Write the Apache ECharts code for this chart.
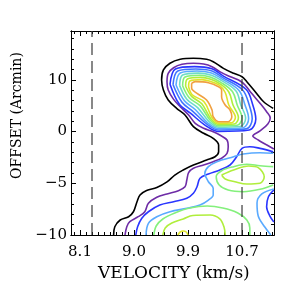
<!DOCTYPE html>
<html><head><meta charset="utf-8">
<script src="https://cdn.jsdelivr.net/npm/echarts@6/dist/echarts.min.js"></script>
<style>html,body{margin:0;padding:0;background:#fff}#c{width:293px;height:293px}</style>
</head><body><div id="c"></div>
<script>
const xTickValues=[8.1,9.0,9.9,10.8];
const xTickLabels=['8.1','9.0','9.9','10.7'];
const yTickValues=[-10,-5,0,5];
const yTickLabels=['\u221210','\u22125','0','10'];
const dashedVelocities=[8.3,10.8];

const contourBlack=[[11.32,2.25],[11.16,2.89],[11.02,3.86],[10.88,4.83],[10.80,5.31],[10.66,5.64],[10.49,6.12],[10.32,6.76],[10.21,6.99],[9.99,7.09],[9.77,6.99],[9.60,6.61],[9.49,5.96],[9.46,4.99],[9.49,4.02],[9.57,3.06],[9.71,2.25],[9.85,1.61],[9.99,0.48],[10.16,-0.16],[10.32,-0.65],[10.41,-1.30],[10.41,-1.94],[10.35,-2.43],[10.21,-2.75],[9.99,-3.23],[9.82,-3.71],[9.68,-4.20],[9.55,-4.87],[9.38,-5.41],[9.21,-5.70],[9.10,-6.13],[9.05,-6.78],[8.99,-7.75],[8.91,-8.23],[8.77,-8.55],[8.68,-9.20],[8.66,-10]];
const contourPurple=[[8.85,-10],[8.88,-9.20],[8.93,-8.71],[9.07,-8.23],[9.18,-7.75],[9.24,-6.93],[9.38,-6.35],[9.55,-6.03],[9.74,-5.72],[9.85,-5.33],[9.88,-4.68],[9.91,-3.97],[9.99,-3.55],[10.16,-3.23],[10.32,-2.91],[10.46,-2.58],[10.55,-2.10],[10.57,-1.46],[10.55,-0.81],[10.43,-0.33],[10.32,-0.01],[10.16,0.32],[10.02,0.80],[9.91,1.61],[9.77,2.41],[9.66,3.12],[9.57,4.02],[9.55,4.83],[9.57,5.64],[9.66,6.18],[9.80,6.51],[9.99,6.61],[10.16,6.54],[10.30,6.28],[10.46,5.70],[10.63,5.25],[10.77,4.89],[10.85,4.51],[10.96,3.70],[11.10,2.74],[11.21,1.92],[11.27,1.32],[11.23,0.74],[11.10,0.06],[10.98,-0.43],[11.07,-0.81],[11.20,-1.25],[11.33,-1.68]];
const ringBlue=[[9.60,4.58],[9.69,6.05],[10.01,6.28],[10.30,6.07],[10.49,5.37],[10.87,4.07],[10.98,2.57],[11.03,1.21],[10.92,0.15],[10.41,0.01],[10.20,0.56],[9.94,1.78],[9.75,2.69],[9.60,4.58]];
const ringMidBlue=[[9.65,4.55],[9.73,5.86],[10.03,6.06],[10.30,5.87],[10.48,5.22],[10.81,4.02],[10.92,2.57],[10.97,1.24],[10.87,0.26],[10.41,0.15],[10.22,0.70],[9.98,1.96],[9.80,2.83],[9.65,4.55]];
const ringLightBlue=[[9.70,4.51],[9.77,5.67],[10.05,5.86],[10.29,5.67],[10.47,5.08],[10.75,3.98],[10.85,2.57],[10.91,1.27],[10.82,0.38],[10.41,0.28],[10.23,0.83],[10.02,2.14],[9.84,2.98],[9.70,4.51]];
const ringAqua=[[9.76,4.47],[9.81,5.47],[10.07,5.66],[10.29,5.46],[10.46,4.93],[10.70,3.93],[10.78,2.57],[10.86,1.30],[10.77,0.49],[10.41,0.42],[10.25,0.97],[10.06,2.32],[9.88,3.12],[9.76,4.47]];
const ringLightGreen=[[9.81,4.43],[9.85,5.28],[10.09,5.45],[10.28,5.26],[10.44,4.79],[10.64,3.88],[10.72,2.57],[10.80,1.33],[10.72,0.61],[10.41,0.55],[10.27,1.10],[10.10,2.51],[9.92,3.27],[9.81,4.43]];
const ringYellowGreen=[[9.86,4.39],[9.89,5.09],[10.11,5.24],[10.28,5.06],[10.43,4.63],[10.58,3.83],[10.65,2.57],[10.74,1.35],[10.67,0.73],[10.41,0.69],[10.28,1.24],[10.13,2.69],[9.96,3.41],[9.86,4.39]];
const ringYellow=[[9.91,4.35],[9.93,4.89],[10.13,5.03],[10.27,4.86],[10.42,4.49],[10.52,3.78],[10.58,2.57],[10.69,1.38],[10.62,0.84],[10.41,0.82],[10.30,1.37],[10.17,2.87],[9.97,3.56],[9.91,4.35]];
const contourOrange=[[9.96,4.67],[10.02,4.83],[10.24,4.73],[10.41,4.34],[10.46,4.02],[10.46,3.38],[10.52,2.57],[10.60,2.09],[10.63,1.44],[10.57,0.96],[10.41,0.96],[10.32,1.44],[10.30,2.09],[10.21,3.06],[10.05,3.70],[9.96,4.19],[9.96,4.67]];
const contourBlueLower=[[11.32,-1.94],[11.10,-1.62],[10.93,-1.46],[10.80,-1.62],[10.71,-2.43],[10.60,-3.23],[10.43,-3.71],[10.24,-4.10],[10.10,-4.52],[10.05,-5.33],[9.99,-5.97],[9.88,-6.45],[9.66,-6.78],[9.43,-7.10],[9.24,-7.75],[9.13,-8.38],[9.06,-9.20],[9.03,-10]];
const contourBlueRight=[[11.33,-5.65],[11.24,-6.30],[11.21,-7.26],[11.27,-8.23],[11.33,-8.74]];
const contourLightBlueLower=[[11.32,-2.10],[11.10,-2.04],[10.82,-2.17],[10.66,-2.43],[10.38,-2.91],[10.24,-3.39],[10.18,-4.03],[10.24,-4.85],[10.32,-5.48],[10.32,-6.13],[10.24,-6.62],[10.10,-7.10],[9.88,-7.42],[9.60,-7.75],[9.38,-8.23],[9.24,-8.87],[9.20,-10]];
const contourLightBlueRight=[[11.33,-5.55],[11.13,-6.03],[11.05,-6.91],[11.07,-8.16],[11.18,-9.23],[11.28,-10]];
const contourLightGreenArch=[[9.33,-10],[9.37,-9.13],[9.48,-8.45],[9.68,-7.87],[9.93,-7.39],[10.22,-7.20],[10.48,-7.39],[10.73,-7.87],[10.88,-8.55],[10.93,-9.32],[10.93,-10]];
const contourLightGreenRight=[[11.32,-3.39],[11.10,-3.30],[10.88,-3.16],[10.66,-3.39],[10.46,-3.78],[10.37,-4.36],[10.42,-5.16],[10.57,-5.65],[10.82,-5.81],[11.10,-5.58],[11.32,-5.16]];
const contourYellowGreenArch=[[9.48,-10],[9.52,-9.32],[9.63,-8.84],[9.82,-8.45],[9.98,-8.11],[10.27,-8.07],[10.43,-8.45],[10.50,-9.23],[10.52,-10]];
const contourYellowGreenLoop=[[10.46,-4.20],[10.66,-3.71],[10.91,-3.33],[11.07,-3.49],[11.17,-4.36],[11.10,-5.00],[10.88,-5.07],[10.68,-4.85],[10.52,-4.58],[10.46,-4.20]];
const contourYellowBump=[[9.73,-10],[9.77,-9.71],[9.82,-9.61],[9.87,-9.71],[9.90,-10]];

const X_MIN=7.95, X_MAX=11.333, Y_MIN=-10, Y_MAX=9.73;
const xMinor=[]; for(let i=80;i<=113;i++){const v=+(i/10).toFixed(1); if(xTickValues.indexOf(v)<0) xMinor.push(v);}
const yMinor=[]; for(let i=-9;i<=9;i++){ if(yTickValues.indexOf(i)<0) yMinor.push(i);}

function lab(vals,labs){return function(v){for(let i=0;i<vals.length;i++){if(Math.abs(vals[i]-v)<1e-6)return labs[i];}return '';};}
const font={color:'#000',fontFamily:'DejaVu Serif',fontSize:15};
function xAx(pos,ticks,len,labels){return {type:'value',position:pos,min:X_MIN,max:X_MAX,
  axisLine:{show:true,onZero:false,lineStyle:{color:'#000',width:1}},
  axisTick:{show:true,inside:true,length:len,customValues:ticks,lineStyle:{color:'#000',width:1}},
  axisLabel:labels?Object.assign({show:true,customValues:xTickValues,formatter:lab(xTickValues,xTickLabels),margin:10},font):{show:false},
  splitLine:{show:false}};}
function yAx(pos,ticks,len,labels){return {type:'value',position:pos,min:Y_MIN,max:Y_MAX,
  axisLine:{show:true,onZero:false,lineStyle:{color:'#000',width:1}},
  axisTick:{show:true,inside:true,length:len,customValues:ticks,lineStyle:{color:'#000',width:1}},
  axisLabel:labels?Object.assign({show:true,customValues:yTickValues,formatter:lab(yTickValues,yTickLabels),margin:4},font):{show:false},
  splitLine:{show:false}};}

const BLACK='#000000',PURPLE='#6e2ca6',BLUE='#2a36ff',MIDBLUE='#3f74ff',LBLUE='#5aaaff',AQUA='#6edcc8',LGREEN='#84f07c',YGREEN='#b0ee3c',YELLOW='#dee42a',ORANGE='#f0a040';
const contours=[
 [contourBlack,BLACK],[contourPurple,PURPLE],
 [ringBlue,BLUE],[ringMidBlue,MIDBLUE],[ringLightBlue,LBLUE],[ringAqua,AQUA],[ringLightGreen,LGREEN],[ringYellowGreen,YGREEN],[ringYellow,YELLOW],[contourOrange,ORANGE],
 [contourBlueLower,BLUE],[contourBlueRight,BLUE],
 [contourLightBlueLower,LBLUE],[contourLightBlueRight,LBLUE],
 [contourLightGreenArch,LGREEN],[contourLightGreenRight,LGREEN],
 [contourYellowGreenArch,YGREEN],[contourYellowGreenLoop,YGREEN],
 [contourYellowBump,YELLOW]
];
const series=contours.map(c=>({type:'line',data:c[0],showSymbol:false,smooth:0.35,clip:true,
  lineStyle:{color:c[1],width:1.6},xAxisIndex:0,yAxisIndex:0,silent:true}));
dashedVelocities.forEach(v=>series.push({type:'line',data:[[v,Y_MIN],[v,Y_MAX]],showSymbol:false,
  lineStyle:{color:'#3a3a3a',width:1.2,type:[12,6]},xAxisIndex:0,yAxisIndex:0,silent:true}));

const chart=echarts.init(document.getElementById('c'),null,{renderer:'canvas'});
chart.setOption({animation:false,backgroundColor:'#fff',
 grid:{left:71,right:19,top:31,bottom:58,containLabel:false},
 xAxis:[xAx('bottom',xTickValues,5,true),xAx('bottom',xMinor,3,false),xAx('top',xTickValues,5,false),xAx('top',xMinor,3,false)],
 yAxis:[yAx('left',yTickValues,5,true),yAx('left',yMinor,3,false),yAx('right',yTickValues,5,false),yAx('right',yMinor,3,false)],
 graphic:[
  {type:'text',left:98,top:265,style:{text:'VELOCITY (km/s)',font:'17px "DejaVu Serif"',fill:'#000'}},
  {type:'text',x:10,y:179,rotation:Math.PI/2,style:{text:'OFFSET (Arcmin)',font:'14px "DejaVu Serif"',fill:'#000'}}
 ],
 series:series});
</script></body></html>
